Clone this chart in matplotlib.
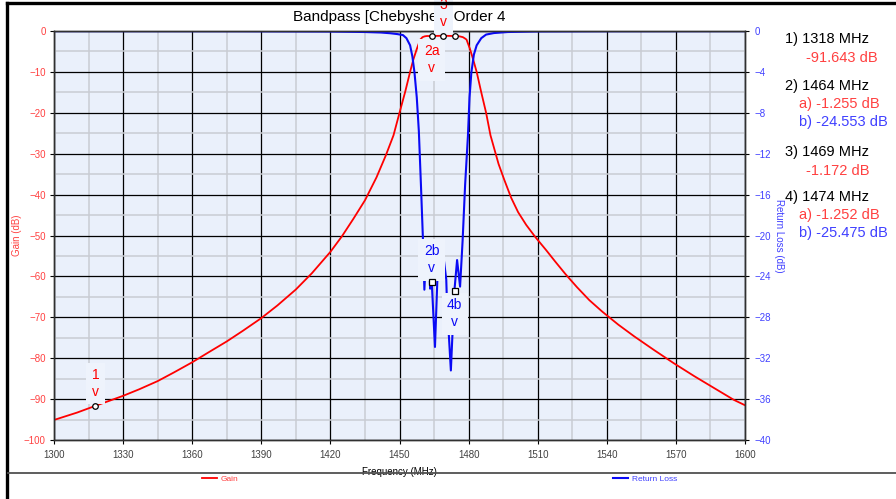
import numpy as np
import matplotlib
matplotlib.use("Agg")
import matplotlib.pyplot as plt
from matplotlib.lines import Line2D
from matplotlib.ticker import FixedLocator, MultipleLocator

plt.rcParams["font.family"] = ["Liberation Sans", "DejaVu Sans"]

# gain trace (dB)
gain_freq = [1300, 1310, 1318, 1330, 1337, 1345, 1352, 1360, 1367, 1375, 1382, 1390,
             1397, 1405, 1412, 1420, 1425, 1430, 1435, 1440, 1444, 1447.4, 1450,
             1452.5, 1454.6, 1456, 1457.5, 1459, 1460, 1461, 1462, 1464, 1466, 1469,
             1472, 1474, 1476, 1477.5, 1478.5, 1479.1, 1480.6, 1482, 1483.5, 1485.5,
             1487.6, 1489.5, 1493, 1495.5, 1498.5, 1501.5, 1505, 1509, 1513.7, 1517.5,
             1522, 1527, 1532.4, 1538, 1545, 1552, 1560.5, 1569, 1578, 1586, 1595.2, 1600]
gain_db = [-95.1, -93.3, -91.64, -89.2, -87.6, -85.6, -83.5, -81.0, -78.6, -75.9, -73.3, -70.2,
           -67.1, -63.2, -59.2, -54.0, -50.2, -45.9, -41.4, -35.8, -30.5, -25.5, -20.0,
           -14.8, -10.0, -7.0, -4.4, -2.1, -1.5, -1.3, -1.22, -1.255, -1.2, -1.172,
           -1.2, -1.252, -1.3, -1.5, -1.85, -2.1, -4.4, -7.0, -10.0, -15.0,
           -20.0, -25.5, -32.5, -36.4, -40.8, -44.3, -47.4, -50.4, -53.6, -56.3,
           -59.4, -62.6, -65.8, -68.6, -71.8, -74.7, -78.0, -81.2, -84.4, -87.1, -90.2, -91.5]

# return loss trace (dB)
rl_freq = [1300, 1380, 1420, 1435, 1442, 1446, 1449, 1451.5, 1453, 1454.6, 1455.6,
           1456.5, 1457.5, 1458.4, 1459.3, 1460.2, 1460.8, 1461.6, 1462.6, 1463.3,
           1464, 1465.4, 1466.8, 1468.5, 1470.3, 1470.6, 1472.3, 1473.8, 1475,
           1476.3, 1477.4, 1478.5, 1479.7, 1480.4, 1481.2, 1482.3, 1483.5, 1485.5,
           1487.6, 1491, 1497, 1510, 1540, 1600]
rl_db = [-0.01, -0.02, -0.05, -0.1, -0.15, -0.22, -0.3, -0.4, -0.7, -1.4, -2.5,
         -4.05, -6.5, -9.8, -15.0, -20.5, -25.3, -21.5, -21.0, -25.2,
         -24.55, -30.9, -22.0, -21.0, -24.3, -26.5, -33.2, -25.5, -22.4,
         -25.0, -20.5, -15.0, -10.3, -6.5, -4.05, -2.3, -1.4, -0.7,
         -0.35, -0.2, -0.1, -0.04, -0.02, -0.01]

# markers
mk_name = ["1", "2", "3", "4"]
mk_freq = [1318, 1464, 1469, 1474]
mk_gain = [-91.643, -1.255, -1.172, -1.252]
mk_rl = [None, -24.553, None, -25.475]
mk_text_y = [39, 86, 152, 197]

RED = "#ff0000"
BLUE = "#0a0af5"
RED_TXT = "#ff4040"
BLUE_TXT = "#4040ff"
BG = "#eaf0fb"
BOX = dict(boxstyle="square,pad=0.4", fc="#eef3fc", ec="none")

fig = plt.figure(figsize=(8.96, 4.99), dpi=100)
ax = fig.add_axes([54 / 896, 1 - 440 / 499, 691 / 896, 409 / 499])
ax2 = ax.twinx()

ax.set_facecolor(BG)
ax.set_xlim(1300, 1600)
ax.set_ylim(-100, 0)
ax2.set_ylim(-40, 0)
ax.xaxis.set_major_locator(FixedLocator(np.arange(1300, 1601, 30)))
ax.xaxis.set_minor_locator(FixedLocator(np.arange(1315, 1600, 30)))
ax.yaxis.set_major_locator(MultipleLocator(10))
ax.yaxis.set_minor_locator(MultipleLocator(5))
ax2.yaxis.set_major_locator(MultipleLocator(4))
ax.grid(which="minor", color="#c9ccd3", lw=1.1)
ax.grid(which="major", color="black", lw=0.9)
ax.set_axisbelow(True)

ax.tick_params(axis="x", which="major", labelsize=7, labelcolor="#404040", length=3, pad=4)
ax.tick_params(axis="y", which="major", labelsize=7, labelcolor=RED_TXT, length=3, pad=3)
ax.tick_params(which="minor", length=0)
ax2.tick_params(axis="y", labelsize=7, labelcolor=BLUE_TXT, length=3, pad=4)
for a in (ax, ax2):
    for s in a.spines.values():
        s.set_color("#303030")
        s.set_linewidth(1.0)

ax.set_ylabel("Gain (dB)", color=RED_TXT, fontsize=7, va="center")
ax.yaxis.set_label_coords(-(54 - 17) / 691, 0.5)
ax2.set_ylabel("Return Loss (dB)", color=BLUE_TXT, fontsize=7, rotation=270, va="center")
ax2.yaxis.set_label_coords((779 - 54) / 691, 0.5)
ax.set_xlabel("Frequency (MHz)", fontsize=7, color="black")
ax.xaxis.set_label_coords(0.5, -(467 - 440) / 409)

gain_line, = ax.plot(gain_freq, gain_db, color=RED, lw=1.3)
rl_line, = ax2.plot(rl_freq, rl_db, color=BLUE, lw=1.5)

# marker symbols and labels (drawn on the top axes so they cover both traces)
for n, f, g, r in zip(mk_name, mk_freq, mk_gain, mk_rl):
    ax2.plot([f], [g], transform=ax.transData, marker="o", ms=4, mfc="white",
             mec="black", mew=0.9, ls="none", zorder=6)
    if r is not None:
        ax2.plot([f], [r], marker="s", ms=4, mfc="white", mec="black",
                 mew=0.9, ls="none", zorder=6)

lbl_kw = dict(textcoords="offset points", ha="center", fontsize=10,
              linespacing=1.25, bbox=BOX, zorder=5, annotation_clip=False)
ax2.annotate("1\nv", (mk_freq[0], mk_gain[0]), xycoords=ax.transData,
             xytext=(0, 5), va="bottom", color=RED, **lbl_kw)
ax2.annotate("2a\nv", (mk_freq[1], mk_gain[1]), xycoords=ax.transData,
             xytext=(0, -6), va="top", color=RED, **lbl_kw)
ax2.annotate("3\nv", (mk_freq[2], mk_gain[2]), xycoords=ax.transData,
             xytext=(0, 5), va="bottom", color=RED, **lbl_kw)
ax2.annotate("2b\nv", (mk_freq[1], mk_rl[1]), xytext=(0, 5), va="bottom",
             color=BLUE, **lbl_kw)
ax2.annotate("4b\nv", (mk_freq[3], mk_rl[3]), xytext=(0, -5), va="top",
             color=BLUE, **lbl_kw)

# title sits underneath the marker label boxes, as in the original
fig.text(399.5 / 896, 1 - 17 / 499, "Bandpass [Chebyshev] Order 4", ha="center",
         va="center", fontsize=11, zorder=-1)

# marker readout on the right
for n, f, g, r, y in zip(mk_name, mk_freq, mk_gain, mk_rl, mk_text_y):
    fig.text(785 / 896, 1 - y / 499, f"{n}) {f} MHz", fontsize=10.5, va="center")
    if r is None:
        fig.text(806 / 896, 1 - (y + 19) / 499, f"{g:.3f} dB", fontsize=10.5,
                 va="center", color=RED_TXT)
    else:
        fig.text(799 / 896, 1 - (y + 18) / 499, f"a) {g:.3f} dB", fontsize=10.5,
                 va="center", color=RED_TXT)
        fig.text(799 / 896, 1 - (y + 36) / 499, f"b) {r:.3f} dB", fontsize=10.5,
                 va="center", color=BLUE_TXT)

# frame, separator and legend
fig.add_artist(Line2D([7 / 896, 7 / 896], [0, 1 - 3 / 499], color="black", lw=2.4))
fig.add_artist(Line2D([7 / 896, 1], [1 - 3 / 499, 1 - 3 / 499], color="black", lw=2.4))
fig.add_artist(Line2D([8 / 896, 1], [1 - 473 / 499, 1 - 473 / 499], color="#505050", lw=1.3))
fig.legend([gain_line], ["Gain"], loc="center left", bbox_to_anchor=(198 / 896, 1 - 479 / 499),
           frameon=False, fontsize=6, handlelength=1.8, handletextpad=0.4,
           labelcolor=RED_TXT, borderpad=0)
fig.legend([rl_line], ["Return Loss"], loc="center left", bbox_to_anchor=(609 / 896, 1 - 479 / 499),
           frameon=False, fontsize=6, handlelength=1.8, handletextpad=0.4,
           labelcolor=BLUE_TXT, borderpad=0)

fig.savefig("out.png", dpi=100)
